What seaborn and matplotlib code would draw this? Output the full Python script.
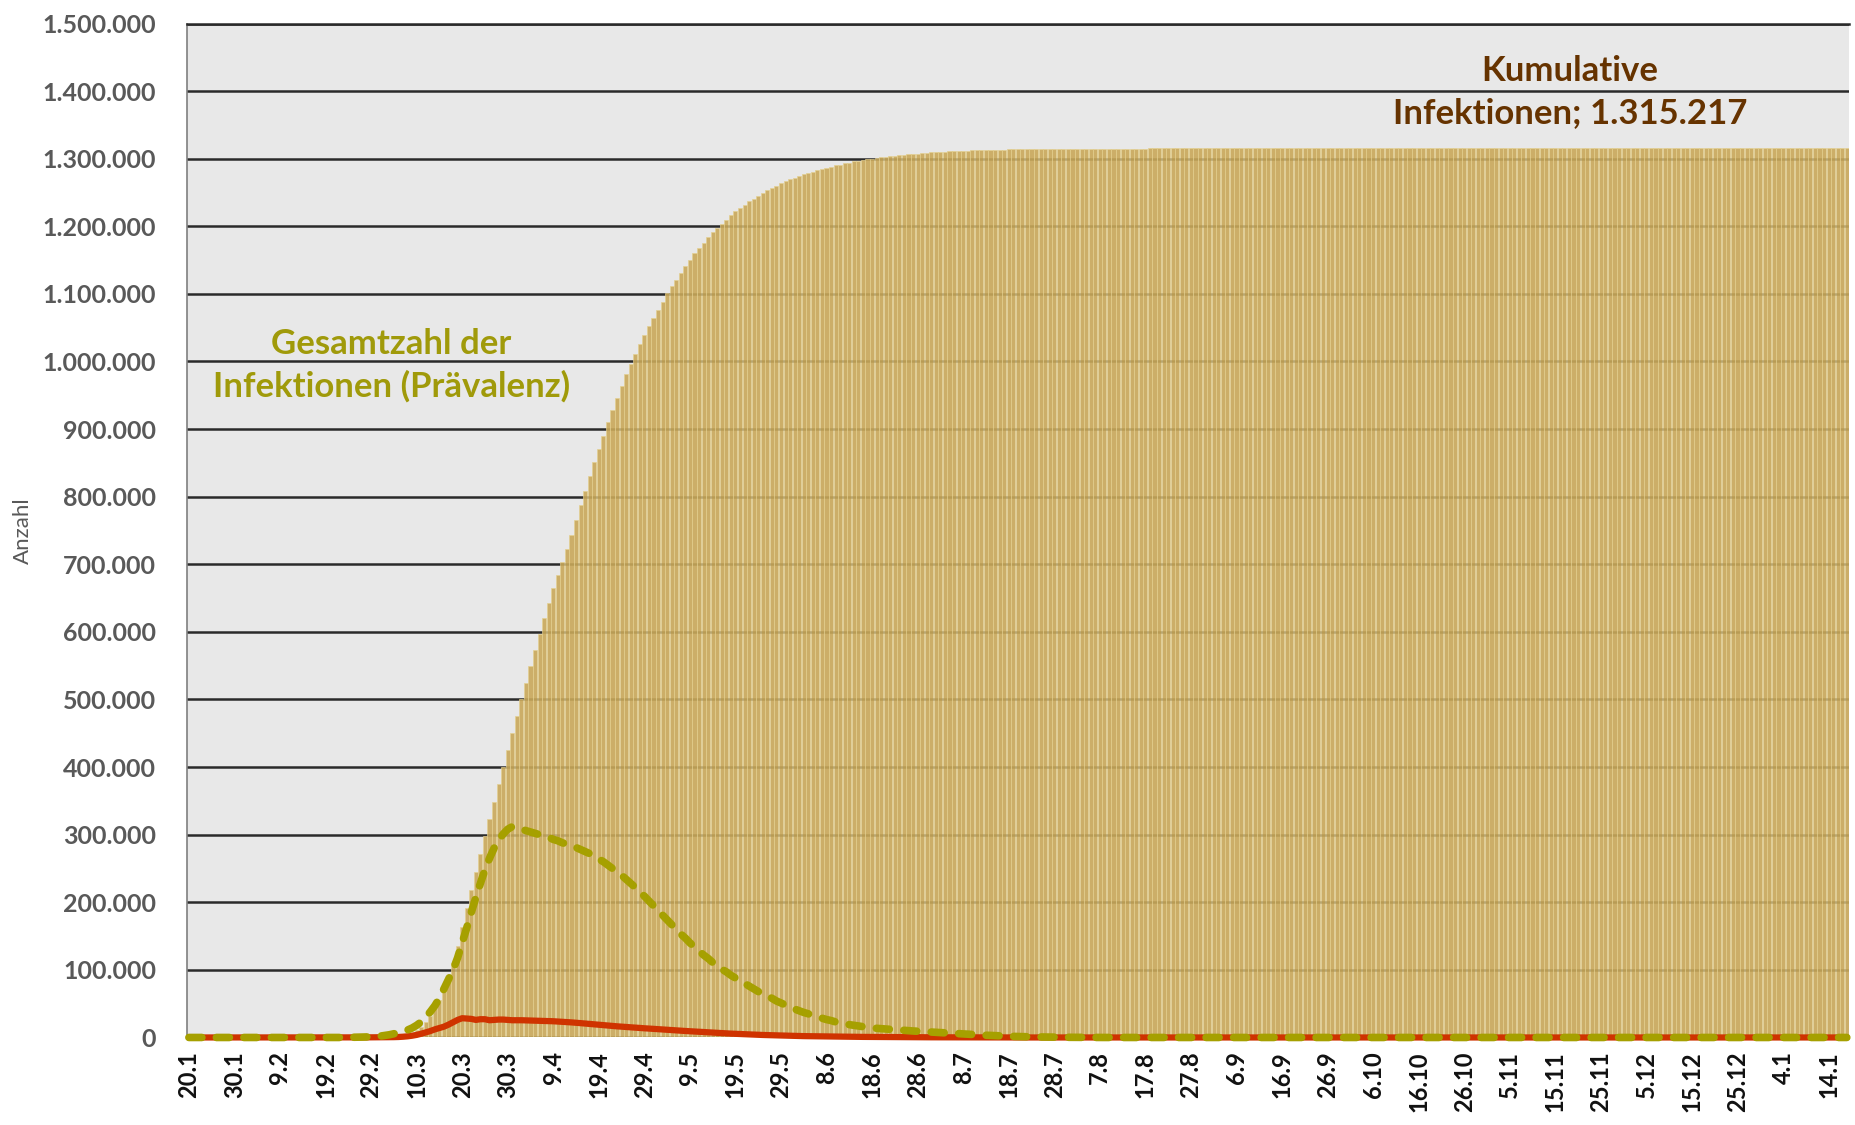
import matplotlib
matplotlib.use("Agg")
import matplotlib.pyplot as plt
from matplotlib.ticker import FuncFormatter
import numpy as np
import pandas as pd
import seaborn as sns

# Daily values from 20.1. to 18.1. of the following year (365 days), in thousands

cumulative_k = [
    0, 0, 0, 0, 0, 0, 0, 0, 0, 0,
    0, 0, 0, 0, 0, 0, 0, 0, 0, 0,
    0, 0, 0, 0, 0, 0, 0, 0, 0, 0,
    0, 0, 0, 0, 0, 0.1, 0.1, 0.2, 0.2, 0.3,
    0.4, 0.5, 0.6, 0.8, 1.0, 1.3, 1.9, 2.9, 4.5, 7,
    11, 16, 23, 32, 43, 56, 72, 90, 110, 136,
    164, 192, 218, 245, 272, 298, 323, 349, 375, 400,
    426, 451, 476, 500, 524, 549, 573, 597, 620, 643,
    665, 684, 703, 722, 743, 765, 787, 809, 830, 851,
    871, 890, 910, 928, 946, 964, 981, 996, 1011, 1026,
    1039, 1053, 1065, 1076, 1088, 1101, 1111, 1121, 1131, 1141,
    1150, 1160, 1168, 1176, 1184, 1191, 1198, 1204, 1210, 1216,
    1222, 1227, 1232, 1237, 1241, 1245, 1249, 1253, 1257, 1260,
    1264, 1267, 1270, 1272, 1274, 1277, 1279, 1281, 1283, 1285,
    1286, 1288, 1290, 1291, 1293, 1294, 1296, 1297, 1298, 1299,
    1300, 1300.9, 1301.8, 1302.7, 1303.6, 1304.4, 1305.1, 1305.8, 1306.5, 1307.1,
    1307.7, 1308.2, 1308.7, 1309.2, 1309.6, 1310.0, 1310.4, 1310.8, 1311.1, 1311.4,
    1311.7, 1312.0, 1312.2, 1312.4, 1312.6, 1312.8, 1313.0, 1313.2, 1313.4, 1313.5,
    1313.7, 1313.8, 1313.9, 1314.0, 1314.1, 1314.2, 1314.3, 1314.4, 1314.5, 1314.6,
    1314.6, 1314.7, 1314.7, 1314.8, 1314.8, 1314.9, 1314.9, 1314.9, 1315.0, 1315.0,
    1315.0, 1315.1, 1315.1, 1315.1, 1315.1, 1315.1, 1315.1, 1315.1, 1315.1, 1315.1,
    1315.1, 1315.217, 1315.217, 1315.217, 1315.217, 1315.217, 1315.217, 1315.217, 1315.217, 1315.217,
    1315.217, 1315.217, 1315.217, 1315.217, 1315.217, 1315.217, 1315.217, 1315.217, 1315.217, 1315.217,
    1315.217, 1315.217, 1315.217, 1315.217, 1315.217, 1315.217, 1315.217, 1315.217, 1315.217, 1315.217,
    1315.217, 1315.217, 1315.217, 1315.217, 1315.217, 1315.217, 1315.217, 1315.217, 1315.217, 1315.217,
    1315.217, 1315.217, 1315.217, 1315.217, 1315.217, 1315.217, 1315.217, 1315.217, 1315.217, 1315.217,
    1315.217, 1315.217, 1315.217, 1315.217, 1315.217, 1315.217, 1315.217, 1315.217, 1315.217, 1315.217,
    1315.217, 1315.217, 1315.217, 1315.217, 1315.217, 1315.217, 1315.217, 1315.217, 1315.217, 1315.217,
    1315.217, 1315.217, 1315.217, 1315.217, 1315.217, 1315.217, 1315.217, 1315.217, 1315.217, 1315.217,
    1315.217, 1315.217, 1315.217, 1315.217, 1315.217, 1315.217, 1315.217, 1315.217, 1315.217, 1315.217,
    1315.217, 1315.217, 1315.217, 1315.217, 1315.217, 1315.217, 1315.217, 1315.217, 1315.217, 1315.217,
    1315.217, 1315.217, 1315.217, 1315.217, 1315.217, 1315.217, 1315.217, 1315.217, 1315.217, 1315.217,
    1315.217, 1315.217, 1315.217, 1315.217, 1315.217, 1315.217, 1315.217, 1315.217, 1315.217, 1315.217,
    1315.217, 1315.217, 1315.217, 1315.217, 1315.217, 1315.217, 1315.217, 1315.217, 1315.217, 1315.217,
    1315.217, 1315.217, 1315.217, 1315.217, 1315.217, 1315.217, 1315.217, 1315.217, 1315.217, 1315.217,
    1315.217, 1315.217, 1315.217, 1315.217, 1315.217, 1315.217, 1315.217, 1315.217, 1315.217, 1315.217,
    1315.217, 1315.217, 1315.217, 1315.217, 1315.217,
]

prevalence_k = [
    0, 0, 0, 0, 0, 0, 0, 0, 0, 0,
    0, 0, 0, 0, 0, 0, 0, 0, 0, 0,
    0, 0, 0, 0, 0, 0, 0, 0, 0, 0,
    0, 0, 0, 0, 0, 0.2, 0.3, 0.4, 0.6, 0.8,
    1, 1.5, 2, 3, 4, 5.5, 7, 9, 11, 14,
    18, 23, 30, 38, 47, 58, 72, 86, 100, 118,
    140, 162, 185, 207, 228, 248, 265, 280, 292, 301,
    308, 312, 311, 308, 306, 304, 302, 300, 298, 296,
    293, 291, 288, 286, 284, 281, 278, 275, 272, 268,
    264, 260, 255, 250, 245, 240, 234, 228, 222, 215,
    209, 202, 195, 188, 181, 174, 167, 160, 153, 147,
    140, 134, 128, 122, 117, 111, 106, 101, 97, 92,
    88, 84, 80, 76, 72, 68, 64, 61, 58, 54,
    51, 48, 45, 42, 39.5, 37, 35, 32.5, 30.5, 28.5,
    26.5, 25, 23, 22, 20, 19, 18, 17, 16, 15,
    14, 13.5, 13, 12.5, 12, 11.5, 11, 10.5, 10, 9.6,
    9.2, 8.8, 8.4, 8, 7.6, 7.2, 6.8, 6.4, 6, 5.6,
    5.2, 4.8, 4.4, 4, 3.6, 3.3, 3, 2.7, 2.4, 2.1,
    1.8, 1.6, 1.4, 1.2, 1.0, 0.9, 0.8, 0.7, 0.6, 0.5,
    0.4, 0.35, 0.3, 0.25, 0.2, 0.17, 0.14, 0.12, 0.1, 0.08,
    0, 0, 0, 0, 0, 0, 0, 0, 0, 0, 0, 0, 0, 0, 0,
    0, 0, 0, 0, 0, 0, 0, 0, 0, 0, 0, 0, 0, 0, 0,
    0, 0, 0, 0, 0, 0, 0, 0, 0, 0, 0, 0, 0, 0, 0,
    0, 0, 0, 0, 0, 0, 0, 0, 0, 0, 0, 0, 0, 0, 0,
    0, 0, 0, 0, 0, 0, 0, 0, 0, 0, 0, 0, 0, 0, 0,
    0, 0, 0, 0, 0, 0, 0, 0, 0, 0, 0, 0, 0, 0, 0,
    0, 0, 0, 0, 0, 0, 0, 0, 0, 0, 0, 0, 0, 0, 0,
    0, 0, 0, 0, 0, 0, 0, 0, 0, 0, 0, 0, 0, 0, 0,
    0, 0, 0, 0, 0, 0, 0, 0, 0, 0, 0, 0, 0, 0, 0,
    0, 0, 0, 0, 0, 0, 0, 0, 0, 0, 0, 0, 0, 0, 0,
    0, 0, 0, 0, 0, 0, 0, 0, 0, 0, 0, 0, 0, 0, 0,
]

new_cases_k = [
    0, 0, 0, 0, 0, 0, 0, 0, 0, 0,
    0, 0, 0, 0, 0, 0, 0, 0, 0, 0,
    0, 0, 0, 0, 0, 0, 0, 0, 0, 0,
    0, 0, 0, 0, 0, 0, 0.05, 0.08, 0.1, 0.15,
    0.2, 0.25, 0.3, 0.35, 0.4, 0.5, 0.7, 1.1, 1.7, 2.6,
    3.8, 5.5, 7.5, 9.5, 12, 14, 16, 19, 22.5, 26,
    28.5, 28, 27.5, 26, 27, 27, 25.5, 26, 26.5, 26.5,
    26, 25.5, 25.5, 25.5, 25.3, 25.2, 25, 24.8, 24.5, 24.2,
    24, 23.6, 23.2, 22.8, 22.3, 21.8, 21.2, 20.6, 20, 19.4,
    18.8, 18.2, 17.6, 17, 16.5, 16, 15.5, 15, 14.5, 14,
    13.6, 13.2, 12.8, 12.3, 11.8, 11.4, 11, 10.5, 10, 9.6,
    9.2, 8.8, 8.4, 8, 7.6, 7.2, 6.8, 6.4, 6, 5.7,
    5.4, 5.1, 4.8, 4.5, 4.2, 3.9, 3.7, 3.5, 3.3, 3.1,
    2.9, 2.7, 2.5, 2.3, 2.1, 2, 1.9, 1.8, 1.7, 1.6,
    1.5, 1.4, 1.3, 1.2, 1.1, 1, 0.95, 0.9, 0.85, 0.8,
    0.75, 0.7, 0.65, 0.6, 0.55, 0.5, 0.45, 0.4, 0.38, 0.35,
    0.32, 0.3, 0.28, 0.26, 0.24, 0.22, 0.2, 0.18, 0.16, 0.14,
    0.12, 0.1, 0.09, 0.08, 0.07, 0.06, 0.05, 0.04, 0.03, 0.02,
    0, 0, 0, 0, 0, 0, 0, 0, 0, 0, 0, 0, 0, 0, 0,
    0, 0, 0, 0, 0, 0, 0, 0, 0, 0, 0, 0, 0, 0, 0,
    0, 0, 0, 0, 0, 0, 0, 0, 0, 0, 0, 0, 0, 0, 0,
    0, 0, 0, 0, 0, 0, 0, 0, 0, 0, 0, 0, 0, 0, 0,
    0, 0, 0, 0, 0, 0, 0, 0, 0, 0, 0, 0, 0, 0, 0,
    0, 0, 0, 0, 0, 0, 0, 0, 0, 0, 0, 0, 0, 0, 0,
    0, 0, 0, 0, 0, 0, 0, 0, 0, 0, 0, 0, 0, 0, 0,
    0, 0, 0, 0, 0, 0, 0, 0, 0, 0, 0, 0, 0, 0, 0,
    0, 0, 0, 0, 0, 0, 0, 0, 0, 0, 0, 0, 0, 0, 0,
    0, 0, 0, 0, 0, 0, 0, 0, 0, 0, 0, 0, 0, 0, 0,
    0, 0, 0, 0, 0, 0, 0, 0, 0, 0, 0, 0, 0, 0, 0,
    0, 0, 0, 0, 0, 0, 0, 0, 0, 0, 0, 0, 0, 0, 0,
    0, 0, 0, 0, 0,
]

# Date labels shown every 10 days
tick_labels = [
    "20.1", "30.1", "9.2", "19.2", "29.2", "10.3", "20.3", "30.3", "9.4", "19.4",
    "29.4", "9.5", "19.5", "29.5", "8.6", "18.6", "28.6", "8.7", "18.7", "28.7",
    "7.8", "17.8", "27.8", "6.9", "16.9", "26.9", "6.10", "16.10", "26.10", "5.11",
    "15.11", "25.11", "5.12", "15.12", "25.12", "4.1", "14.1",
]

n_days = len(cumulative_k)
assert n_days == len(prevalence_k) == len(new_cases_k) == 365, (
    len(cumulative_k), len(prevalence_k), len(new_cases_k))

df = pd.DataFrame({
    "tag": np.arange(n_days),
    "kumulativ": np.array(cumulative_k) * 1000,
    "praevalenz": np.array(prevalence_k) * 1000,
    "neu": np.array(new_cases_k) * 1000,
})

sns.set_theme(style="white")
plt.rcParams["font.family"] = ["Lato", "DejaVu Sans"]

fig = plt.figure(figsize=(18.55, 11.25), dpi=100)
ax = fig.add_axes([0.1006, 0.0778, 0.8962, 0.9013])
ax.set_facecolor("#E8E8E8")

# cumulative infections as daily bars
sns.barplot(data=df, x="tag", y="kumulativ", color="#C9A85A", saturation=1,
            width=0.9, edgecolor="#E4D08F", linewidth=0.5, alpha=0.9,
            errorbar=None, ax=ax, zorder=2)

# daily new infections (solid) and prevalence (dashed)
sns.lineplot(data=df, x="tag", y="neu", color="#CF3300", linewidth=4.5,
             ax=ax, zorder=3, clip_on=False)
sns.lineplot(data=df, x="tag", y="praevalenz", color="#A6A000", linewidth=5.5,
             ax=ax, zorder=4, clip_on=False)
dash_line = ax.lines[-1]
dash_line.set_dashes((1.7, 1.9))
dash_line.set_dash_capstyle("round")

ax.set_xlim(-0.5, n_days - 0.5)
ax.set_ylim(0, 1_500_000)
ax.set_yticks(np.arange(0, 1_500_001, 100_000))
ax.yaxis.set_major_formatter(
    FuncFormatter(lambda v, _: f"{v:,.0f}".replace(",", ".")))
ax.yaxis.grid(True, color="#2A2A2A", linewidth=1.8)
ax.set_axisbelow(True)

ax.set_xticks(np.arange(0, 10 * len(tick_labels), 10))
ax.set_xticklabels(tick_labels, rotation=90, fontweight="bold",
                   fontsize=17, color="#111111")
for lbl in ax.get_yticklabels():
    lbl.set_fontweight("bold")
    lbl.set_fontsize(18)
    lbl.set_color("#595959")
ax.tick_params(axis="both", length=0)
ax.tick_params(axis="y", pad=22)
ax.tick_params(axis="x", pad=10)

ax.set_xlabel("")
ax.set_ylabel("")
for side in ["right", "bottom"]:
    ax.spines[side].set_visible(False)
ax.spines["left"].set_color("#7F7F7F")
ax.spines["left"].set_linewidth(1.2)
ax.spines["top"].set_color("#2A2A2A")
ax.spines["top"].set_linewidth(1.8)

fig.text(0.0125, 0.528, "Anzahl", rotation=90, ha="center", va="center",
         fontsize=16, color="#595959")

ax.text(0.1233, 0.663, "Gesamtzahl der\nInfektionen (Prävalenz)",
        transform=ax.transAxes, ha="center", va="center", fontsize=25,
        fontweight="bold", color="#A09A0A", linespacing=1.38)
ax.text(0.832, 0.9325, "Kumulative\nInfektionen; 1.315.217",
        transform=ax.transAxes, ha="center", va="center", fontsize=25,
        fontweight="bold", color="#663300", linespacing=1.38)

fig.savefig("out.png", dpi=100, facecolor="white")
